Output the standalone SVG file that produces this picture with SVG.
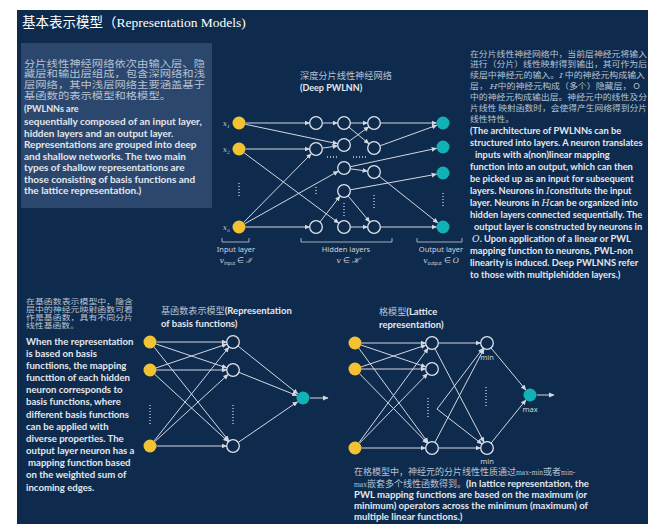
<svg xmlns="http://www.w3.org/2000/svg" width="648" height="524" viewBox="0 0 648 524">
<defs>
<marker id="ah" markerWidth="6" markerHeight="6" refX="5" refY="3" orient="auto" markerUnits="userSpaceOnUse"><path d="M0,0.6 L5.5,3 L0,5.4 z" fill="#d3d9e2"/></marker>
<style>
.bg{fill:#0e2b4d}
.panel{fill:#2b476d}
.in{fill:#f3c233}
.out{fill:#12b1b5}
.hid{fill:none;stroke:#dfe4eb;stroke-width:1.3}
.e{stroke:#d3d9e2;stroke-width:1;fill:none;marker-end:url(#ah)}
.dots{stroke:#cfd6e0;stroke-width:1.3;stroke-dasharray:1 2;fill:none}
.br{stroke:#c9d1dc;stroke-width:0.8;fill:none}
.cn{font-family:"Noto Sans CJK SC",sans-serif;fill:#b7c2d3}
.en{font-family:Lato,"Noto Sans",sans-serif;font-weight:700;fill:#e4e8ee}
.lb{font-family:"Noto Sans",sans-serif;fill:#cdd4df;font-size:7.5px}
.mi{font-family:"DejaVu Serif",serif;font-style:italic}
.ttl{font-family:"Liberation Serif","Noto Sans CJK SC",serif;fill:#ffffff;font-size:13.5px}
</style>
</defs>
<rect x="0" y="0" width="648" height="524" fill="#ffffff"/>
<rect class="bg" x="17" y="10" width="631" height="514"/>
<text class="ttl" x="22" y="27">基本表示模型（Representation Models)</text>
<rect class="panel" x="21" y="43" width="191" height="165"/>
<g id="intro-text">
<text class="cn" font-size="9.6" x="24" y="66.5" textLength="181" lengthAdjust="spacingAndGlyphs">分片线性神经网络依次由输入层、隐</text>
<text class="cn" font-size="9.6" x="24" y="77.3" textLength="181" lengthAdjust="spacingAndGlyphs">藏层和输出层组成，包含深网络和浅</text>
<text class="cn" font-size="9.6" x="24" y="88.1" textLength="181" lengthAdjust="spacingAndGlyphs">层网络，其中浅层网络主要涵盖基于</text>
<text class="cn" font-size="9.6" x="24" y="98.9" textLength="147" lengthAdjust="spacingAndGlyphs">基函数的表示模型和格模型。</text>
<text class="en" font-size="9" x="24" y="112">(PWLNNs are</text>
<text class="en" font-size="10" x="24" y="125">sequentially composed of an input layer,</text>
<text class="en" font-size="10" x="24" y="136.5">hidden layers and an output layer.</text>
<text class="en" font-size="10" x="24" y="148">Representations are grouped into deep</text>
<text class="en" font-size="10" x="24" y="159.5">and shallow networks. The two main</text>
<text class="en" font-size="10" x="24" y="171">types of shallow representations are</text>
<text class="en" font-size="10" x="24" y="182.5">those consisting of basis functions and</text>
<text class="en" font-size="10" x="24" y="194">the lattice representation.)</text>
</g>
<g id="right-text">
<text class="cn" font-size="8.2" x="470" y="57.3" textLength="177" lengthAdjust="spacingAndGlyphs">在分片线性神经网络中，当前层神经元将输入</text>
<text class="cn" font-size="8.2" x="470" y="67" textLength="177" lengthAdjust="spacingAndGlyphs">进行（分片）线性映射得到输出，其可作为后</text>
<text class="cn" font-size="8.2" x="470" y="77.8" textLength="175" lengthAdjust="spacingAndGlyphs">续层中神经元的输入。<tspan class="mi">I</tspan> 中的神经元构成输入</text>
<text class="cn" font-size="8.2" x="470" y="89" textLength="170" lengthAdjust="spacingAndGlyphs">层， <tspan class="mi">H</tspan>中的神经元构成（多个）隐藏层， O</text>
<text class="cn" font-size="8.2" x="470" y="99.5" textLength="177" lengthAdjust="spacingAndGlyphs">中的神经元构成输出层。神经元中的线性及分</text>
<text class="cn" font-size="8.2" x="470" y="110.5" textLength="177" lengthAdjust="spacingAndGlyphs">片线性 映射函数时，会使得产生网络得到分片</text>
<text class="cn" font-size="8.2" x="470" y="121.5" textLength="44" lengthAdjust="spacingAndGlyphs">线性特性。</text>
<text class="en" font-size="9.3" x="470" y="134">(The architecture of PWLNNs can be</text>
<text class="en" font-size="9.3" x="470" y="146">structured into layers. A neuron translates</text>
<text class="en" font-size="9.3" x="475" y="158">inputs with a(non)linear mapping</text>
<text class="en" font-size="9.3" x="470" y="170">function into an output, which can then</text>
<text class="en" font-size="9.3" x="470" y="182">be picked up as an input for subsequent</text>
<text class="en" font-size="9.3" x="470" y="194">layers. Neurons in <tspan class="mi" font-weight="400">I</tspan>constitute the input</text>
<text class="en" font-size="9.3" x="470" y="206">layer. Neurons in <tspan class="mi" font-weight="400">H</tspan>can be organized into</text>
<text class="en" font-size="9.3" x="470" y="218">hidden layers connected sequentially. The</text>
<text class="en" font-size="9.3" x="474" y="230">output layer is constructed by neurons in</text>
<text class="en" font-size="9.3" x="472" y="242"><tspan class="mi" font-weight="400">O</tspan>. Upon application of a linear or PWL</text>
<text class="en" font-size="9.3" x="470" y="254">mapping function to neurons, PWL-non</text>
<text class="en" font-size="9.3" x="470" y="266">linearity is induced. Deep PWLNNS refer</text>
<text class="en" font-size="9.3" x="470" y="278">to those with multiplehidden layers.)</text>
</g>
<g id="basis-text">
<text class="cn" font-size="7.2" x="26" y="304.3" textLength="107" lengthAdjust="spacingAndGlyphs">在基函数表示模型中，隐含</text>
<text class="cn" font-size="7.2" x="26" y="312.1" textLength="107" lengthAdjust="spacingAndGlyphs">层中的神经元映射函数可看</text>
<text class="cn" font-size="7.2" x="26" y="319.9" textLength="107" lengthAdjust="spacingAndGlyphs">作是基函数，具有不同分片</text>
<text class="cn" font-size="7.2" x="26" y="327.7" textLength="53" lengthAdjust="spacingAndGlyphs">线性基函数。</text>
<text class="en" font-size="9.6" x="26" y="344.5">When the representation</text>
<text class="en" font-size="9.6" x="26" y="356.7">is based on basis</text>
<text class="en" font-size="9.6" x="26" y="368.8">functiions, the mapping</text>
<text class="en" font-size="9.6" x="26" y="381">functtion of each hidden</text>
<text class="en" font-size="9.6" x="26" y="393.2">neuron corresponds to</text>
<text class="en" font-size="9.6" x="26" y="405.4">basis functions, where</text>
<text class="en" font-size="9.6" x="26" y="417.5">different basis functions</text>
<text class="en" font-size="9.6" x="26" y="429.7">can be applied with</text>
<text class="en" font-size="9.6" x="26" y="441.9">diverse properties. The</text>
<text class="en" font-size="9.6" x="26" y="454">output layer neuron has a</text>
<text class="en" font-size="9.6" x="28" y="466.2">mapping function based</text>
<text class="en" font-size="9.6" x="26" y="478.4">on the weighted sum of</text>
<text class="en" font-size="9.6" x="26" y="490.5">incoming edges.</text>
</g>
<g id="lattice-text">
<text class="cn" font-size="9" x="354" y="475.3">在格模型中，神经元的分片线性性质通过<tspan font-family="Liberation Serif,serif" font-size="7.5">max-min</tspan>或者<tspan font-family="Liberation Serif,serif" font-size="7.5">min-</tspan></text>
<text class="cn" font-size="9" x="354" y="486.8"><tspan font-family="Liberation Serif,serif" font-size="7.5">max</tspan>嵌套多个线性函数得到。<tspan class="en" font-size="9.6">(In lattice representation, the</tspan></text>
<text class="en" font-size="9.6" x="354" y="497.8">PWL mapping functions are based on the maximum (or</text>
<text class="en" font-size="9.6" x="354" y="508.8">minimum) operators across the minimum (maximum) of</text>
<text class="en" font-size="9.6" x="354" y="519.8">multiple linear functions.)</text>
</g>
<g id="titles">
<text class="cn" font-size="9.2" x="300" y="79" fill="#d0d7e2">深度分片线性神经网络</text>
<text class="en" font-size="9" x="300" y="91">(Deep PWLNN)</text>
<text class="cn" font-size="9.1" x="161" y="314" fill="#d0d7e2">基函数表示模型<tspan class="en" font-size="9.5">(Representation</tspan></text>
<text class="en" font-size="9.5" x="161" y="326.5">of basis functions)</text>
<text class="cn" font-size="9.1" x="379" y="315" fill="#d0d7e2">格模型<tspan class="en" font-size="9.5">(Lattice</tspan></text>
<text class="en" font-size="9.5" x="379" y="328">representation)</text>
</g>
<g id="connectors">
<line class="e" x1="245.5" y1="123" x2="309.5" y2="123"/>
<line class="e" x1="245.4" y1="124.3" x2="337.6" y2="143.7"/>
<line class="e" x1="245.5" y1="149" x2="309.5" y2="149"/>
<line class="e" x1="244.2" y1="152.9" x2="338.8" y2="223.1"/>
<line class="e" x1="243.6" y1="222.4" x2="311.4" y2="153.6"/>
<line class="e" x1="244.7" y1="223.8" x2="338.3" y2="171.2"/>
<line class="e" x1="245.5" y1="227" x2="309.5" y2="227"/>
<line class="e" x1="322.5" y1="123" x2="337.5" y2="123"/>
<line class="e" x1="322.4" y1="148.1" x2="337.6" y2="145.9"/>
<line class="e" x1="320" y1="221.9" x2="340" y2="196.1"/>
<line class="e" x1="350.5" y1="123" x2="367.5" y2="123"/>
<line class="e" x1="349" y1="127.2" x2="369" y2="143.8"/>
<line class="e" x1="349.2" y1="141.2" x2="368.8" y2="126.8"/>
<line class="e" x1="350.4" y1="168.9" x2="367.6" y2="171.1"/>
<line class="e" x1="350.4" y1="166.7" x2="436.6" y2="148.3"/>
<line class="e" x1="348.2" y1="196" x2="369.8" y2="222"/>
<line class="e" x1="350.4" y1="189.8" x2="436.6" y2="174.2"/>
<line class="e" x1="350.5" y1="227" x2="367.5" y2="227"/>
<line class="e" x1="380.5" y1="123" x2="436.5" y2="123"/>
<line class="e" x1="380.1" y1="145.8" x2="436.9" y2="125.2"/>
<line class="e" x1="379.1" y1="176.1" x2="437.9" y2="222.9"/>
<line class="e" x1="380.5" y1="227" x2="436.5" y2="227"/>
<path class="dots" d="M239,183V196 M316,187V196 M344,203V216 M374,195V208 M443,193V208"/>
<path class="dots" d="M327,157H339 M353,157H368" stroke-dasharray="1.5 1.5"/>
<line class="e" x1="156.5" y1="342" x2="226.5" y2="342"/>
<line class="e" x1="156.2" y1="344.1" x2="226.8" y2="367.9"/>
<line class="e" x1="154.1" y1="347.1" x2="228.9" y2="440.9"/>
<line class="e" x1="156.2" y1="367.9" x2="226.8" y2="344.1"/>
<line class="e" x1="156.5" y1="370" x2="226.5" y2="370"/>
<line class="e" x1="154.8" y1="374.4" x2="228.2" y2="441.6"/>
<line class="e" x1="154.1" y1="440.9" x2="228.9" y2="347.1"/>
<line class="e" x1="154.8" y1="441.6" x2="228.2" y2="374.4"/>
<line class="e" x1="156.5" y1="446" x2="226.5" y2="446"/>
<line class="e" x1="238.1" y1="346.1" x2="297.9" y2="393.9"/>
<line class="e" x1="239" y1="372.4" x2="297" y2="395.6"/>
<line class="e" x1="238.4" y1="442.3" x2="297.6" y2="401.7"/>
<line class="e" x1="310" y1="398" x2="328" y2="398"/>
<path class="dots" d="M150,405V424 M233,405V424"/>
<line class="e" x1="361.5" y1="343" x2="425.5" y2="343"/>
<line class="e" x1="361.2" y1="345.1" x2="425.8" y2="366.9"/>
<line class="e" x1="358.8" y1="348.2" x2="428.2" y2="442.8"/>
<line class="e" x1="361.2" y1="366.9" x2="425.8" y2="345.1"/>
<line class="e" x1="361.5" y1="369" x2="425.5" y2="369"/>
<line class="e" x1="359.5" y1="373.7" x2="427.5" y2="443.3"/>
<line class="e" x1="358.8" y1="442.8" x2="428.2" y2="348.2"/>
<line class="e" x1="359.5" y1="443.3" x2="427.5" y2="373.7"/>
<line class="e" x1="361.5" y1="448" x2="425.5" y2="448"/>
<line class="e" x1="438.5" y1="343" x2="480.5" y2="343"/>
<line class="e" x1="435" y1="348.8" x2="484" y2="442.2"/>
<line class="e" x1="435" y1="442.2" x2="484" y2="348.8"/>
<line class="e" x1="438.5" y1="448" x2="480.5" y2="448"/>
<line class="e" x1="437" y1="409" x2="483.1" y2="348.2"/>
<line class="e" x1="437" y1="409" x2="481.9" y2="444"/>
<line class="e" x1="491.1" y1="348" x2="525.9" y2="390"/>
<line class="e" x1="491.1" y1="443" x2="525.9" y2="400"/>
<line class="e" x1="537" y1="395" x2="554" y2="395"/>
<path class="dots" d="M428,398V419 M486,387V408"/>
</g>
<g id="deep-labels">
<text class="mi" font-size="7" fill="#cdd4df" x="223" y="126">x<tspan font-size="4.5" dy="1.5">1</tspan></text>
<text class="mi" font-size="7" fill="#cdd4df" x="223" y="152">x<tspan font-size="4.5" dy="1.5">2</tspan></text>
<text class="mi" font-size="7" fill="#cdd4df" x="223" y="230">x<tspan font-size="4.5" dy="1.5">n</tspan></text>
<path class="br" d="M222,238V242H249V238 M301,238V242H392V238 M417,238V242H462V238"/>
<text class="lb" x="236" y="252" text-anchor="middle">Input layer</text>
<text class="lb" x="236" y="263" text-anchor="middle"><tspan class="mi">v</tspan><tspan font-size="4.5" dy="1.5">input</tspan><tspan dy="-1.5"> ∈ </tspan><tspan class="mi">ℐ</tspan></text>
<text class="lb" x="346" y="252" text-anchor="middle">Hidden layers</text>
<text class="lb" x="348" y="263" text-anchor="middle"><tspan class="mi">v</tspan> ∈ <tspan class="mi">ℋ</tspan></text>
<text class="lb" x="441" y="252" text-anchor="middle">Output layer</text>
<text class="lb" x="441" y="263" text-anchor="middle"><tspan class="mi">v</tspan><tspan font-size="4.5" dy="1.5">output</tspan><tspan dy="-1.5"> ∈ </tspan><tspan class="mi">O</tspan></text>
</g>
<g id="deep-nodes">
<g id="d-i1"><circle class="in" cx="239" cy="123" r="6.5"/></g>
<g id="d-i2"><circle class="in" cx="239" cy="149" r="6.5"/></g>
<g id="d-in"><circle class="in" cx="239" cy="227" r="6.5"/></g>
<g id="d-h1a"><circle class="hid" cx="316" cy="123" r="6.3"/></g>
<g id="d-h1b"><circle class="hid" cx="316" cy="149" r="6.3"/></g>
<g id="d-h1e"><circle class="hid" cx="316" cy="227" r="6.3"/></g>
<g id="d-h2a"><circle class="hid" cx="344" cy="123" r="6.3"/></g>
<g id="d-h2b"><circle class="hid" cx="344" cy="145" r="6.3"/></g>
<g id="d-h2c"><circle class="hid" cx="344" cy="168" r="6.3"/></g>
<g id="d-h2d"><circle class="hid" cx="344" cy="191" r="6.3"/></g>
<g id="d-h2e"><circle class="hid" cx="344" cy="227" r="6.3"/></g>
<g id="d-h3a"><circle class="hid" cx="374" cy="123" r="6.3"/></g>
<g id="d-h3b"><circle class="hid" cx="374" cy="148" r="6.3"/></g>
<g id="d-h3c"><circle class="hid" cx="374" cy="172" r="6.3"/></g>
<g id="d-h3e"><circle class="hid" cx="374" cy="227" r="6.3"/></g>
<g id="d-oa"><circle class="out" cx="443" cy="123" r="6.5"/></g>
<g id="d-ob"><circle class="out" cx="443" cy="147" r="6.5"/></g>
<g id="d-oc"><circle class="out" cx="443" cy="173" r="6.5"/></g>
<g id="d-on"><circle class="out" cx="443" cy="227" r="6.5"/></g>
</g>
<g id="basis-nodes">
<g id="b-i1"><circle class="in" cx="150" cy="342" r="6.5"/></g>
<g id="b-i2"><circle class="in" cx="150" cy="370" r="6.5"/></g>
<g id="b-in"><circle class="in" cx="150" cy="446" r="6.5"/></g>
<g id="b-h1"><circle class="hid" cx="233" cy="342" r="6.3"/></g>
<g id="b-h2"><circle class="hid" cx="233" cy="370" r="6.3"/></g>
<g id="b-hn"><circle class="hid" cx="233" cy="446" r="6.3"/></g>
<g id="b-out"><circle class="out" cx="303" cy="398" r="6.5"/></g>
</g>
<g id="lattice-nodes">
<g id="l-i1"><circle class="in" cx="355" cy="343" r="6.5"/></g>
<g id="l-i2"><circle class="in" cx="355" cy="369" r="6.5"/></g>
<g id="l-in"><circle class="in" cx="355" cy="448" r="6.5"/></g>
<g id="l-h1"><circle class="hid" cx="432" cy="343" r="6.3"/></g>
<g id="l-h2"><circle class="hid" cx="432" cy="369" r="6.3"/></g>
<g id="l-hn"><circle class="hid" cx="432" cy="448" r="6.3"/></g>
<g id="l-min1"><circle class="hid" cx="487" cy="343" r="6.3"/><text class="lb" font-size="7" x="487" y="360" text-anchor="middle">min</text></g>
<g id="l-min2"><circle class="hid" cx="487" cy="448" r="6.3"/><text class="lb" font-size="7" x="487" y="464" text-anchor="middle">min</text></g>
<g id="l-max"><circle class="out" cx="530" cy="395" r="6.5"/><text class="lb" font-size="7" x="530" y="412" text-anchor="middle">max</text></g>
</g>
</svg>
